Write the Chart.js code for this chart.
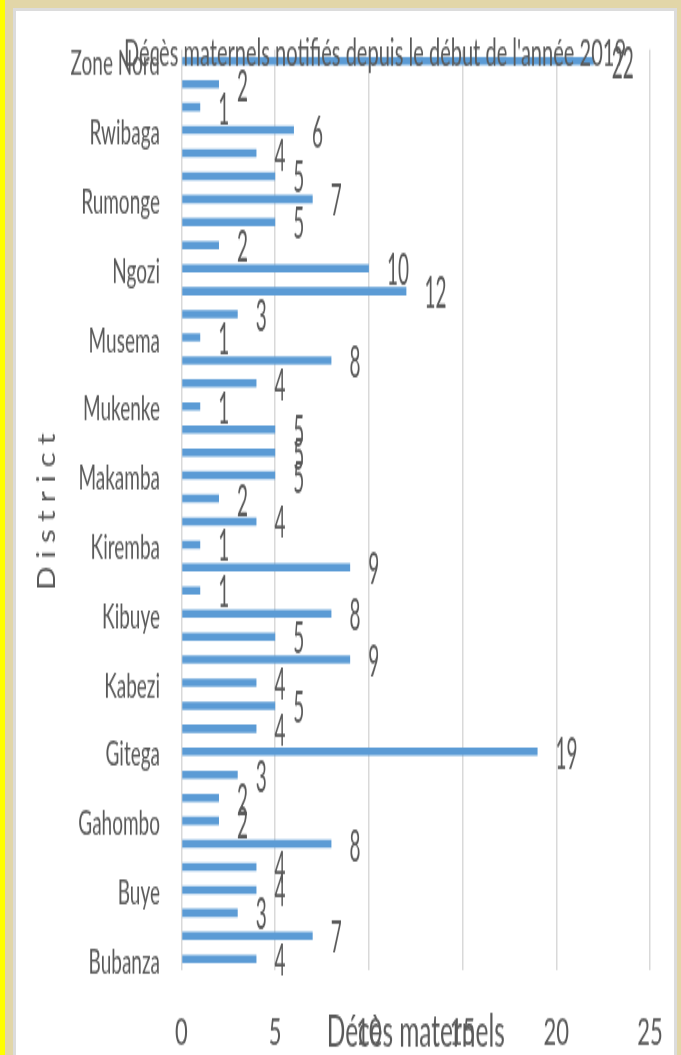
<!DOCTYPE html>
<html>
<head>
<meta charset="utf-8">
<title>Décès maternels</title>
<script src="https://cdn.jsdelivr.net/npm/chart.js"></script>
<style>
  html, body { margin: 0; padding: 0; }
  body { width: 681px; height: 1055px; overflow: hidden; position: relative; background: #e2d6a8; }
  #yellow { position: absolute; left: 0; top: 0; width: 5px; height: 1055px; background: #ffff00; }
  #panel { position: absolute; left: 13px; top: 8px; width: 658px; height: 1060px; background: #fff; border: 3px solid #dcdcdc; border-bottom: none; }
  /* the original picture is stretched vertically, so the chart is too */
  #wrap { position: absolute; left: 0; top: 0; width: 681px; height: 593px; transform: scaleY(1.78); transform-origin: 0 0; }
</style>
</head>
<body>
<div id="yellow"></div>
<div id="panel"></div>
<div id="wrap"><canvas id="myChart1" width="681" height="593"></canvas></div>
<script>
// top to bottom, as shown (only every third name is printed on the axis)
var districts = ["Zone Nord", "Zone Centre", "Ryansoro", "Rwibaga", "Ruyigi", "Rutana", "Rumonge",
  "Nyanza-Lac", "Nyabikere", "Ngozi", "Mwaro", "Muyinga", "Musema", "Murore", "Muramvya",
  "Mukenke", "Mpanda", "Matana", "Makamba", "Mabayi", "Kirundo", "Kiremba", "Kinyinya",
  "Kiganda", "Kibuye", "Kibumbu", "Kayanza", "Kabezi", "Isale", "Giteranyi", "Gitega",
  "Gihofi", "Gashoho", "Gahombo", "Cibitoke", "Cankuzo", "Buye", "Busoni", "Bugarama", "Bubanza"];
var deces = [22, 2, 1, 6, 4, 5, 7, 5, 2, 10, 12, 3, 1, 8, 4, 1, 5, 5, 5, 2,
  4, 1, 9, 1, 8, 5, 9, 4, 5, 4, 19, 3, 2, 2, 8, 4, 4, 3, 7, 4];
var xTicks = [0, 5, 10, 15, 20, 25];

var chartTitle = "Décès maternels notifiés depuis le début de l'année 2019";
var xTitle = "Décès maternels";
var yTitle = "District";
var grey = '#595959';

// titles and value labels, drawn over the chart
var textPlugin = {
  id: 'textPlugin',
  afterDraw: function(chart) {
    var ctx = chart.ctx;
    var area = chart.chartArea;
    ctx.save();
    ctx.fillStyle = grey;
    ctx.textBaseline = 'alphabetic';

    ctx.font = '21px Lato';
    ctx.textAlign = 'center';
    ctx.fillText(chartTitle, 375, 36.5, 502);

    ctx.font = '25px Lato';
    ctx.fillText(xTitle, (area.left + area.right) / 2, 587.6, 178);

    ctx.font = '25px Lato';
    ctx.textAlign = 'left';
    var meta = chart.getDatasetMeta(0);
    meta.data.forEach(function(bar, i) {
      var txt = String(deces[i]);
      ctx.fillText(txt, bar.x + 18, bar.y + 9.5, txt.length * 11);
    });

    // rotated axis title, letters narrowed and spread out
    ctx.translate(55, 331.5);
    ctx.rotate(-Math.PI / 2);
    ctx.font = '25px Lato';
    var chars = yTitle.split('');
    var widths = chars.map(function(ch) { return ctx.measureText(ch).width * 0.7; });
    var sum = widths.reduce(function(a, b) { return a + b; }, 0);
    var gap = (88 - sum) / (chars.length - 1);
    var pos = 0;
    chars.forEach(function(ch, i) {
      ctx.fillText(ch, pos, 0, widths[i]);
      pos += widths[i] + gap;
    });
    ctx.restore();
  }
};

var ctx1 = document.getElementById("myChart1");
var myChart1 = new Chart(ctx1, {
  type: 'bar',
  data: {
    labels: districts,
    datasets: [{
      data: deces,
      backgroundColor: '#5b9bd5',
      barPercentage: 0.35,
      categoryPercentage: 1
    }]
  },
  options: {
    indexAxis: 'y',
    responsive: false,
    animation: false,
    devicePixelRatio: 1,
    layout: { padding: { top: 27.8, right: 31, left: 0, bottom: 0 } },
    plugins: {
      legend: { display: false },
      tooltip: { enabled: false }
    },
    scales: {
      x: {
        min: 0,
        max: 25,
        afterBuildTicks: function(scale) {
          scale.ticks = xTicks.map(function(v) { return { value: v }; });
        },
        afterFit: function(scale) {
          scale.height = 47.8;
          scale.paddingLeft = 0;
          scale.paddingRight = 0;
        },
        grid: { color: '#d9d9d9', lineWidth: 1.5, drawTicks: false },
        border: { display: false },
        ticks: {
          color: grey,
          font: { family: 'Lato', size: 22 },
          padding: 21.4,
          maxRotation: 0,
          autoSkip: false
        }
      },
      y: {
        afterFit: function(scale) {
          scale.width = 181.5;
          scale.paddingTop = 0;
          scale.paddingBottom = 0;
        },
        grid: { display: false, drawTicks: false },
        border: { display: false },
        ticks: {
          color: grey,
          font: { family: 'Lato', size: 19 },
          padding: 21.5,
          labelOffset: 2,
          autoSkip: false,
          callback: function(value, index) {
            return index % 3 === 0 ? districts[index] : '';
          }
        }
      }
    }
  },
  plugins: [textPlugin]
});
</script>
</body>
</html>
